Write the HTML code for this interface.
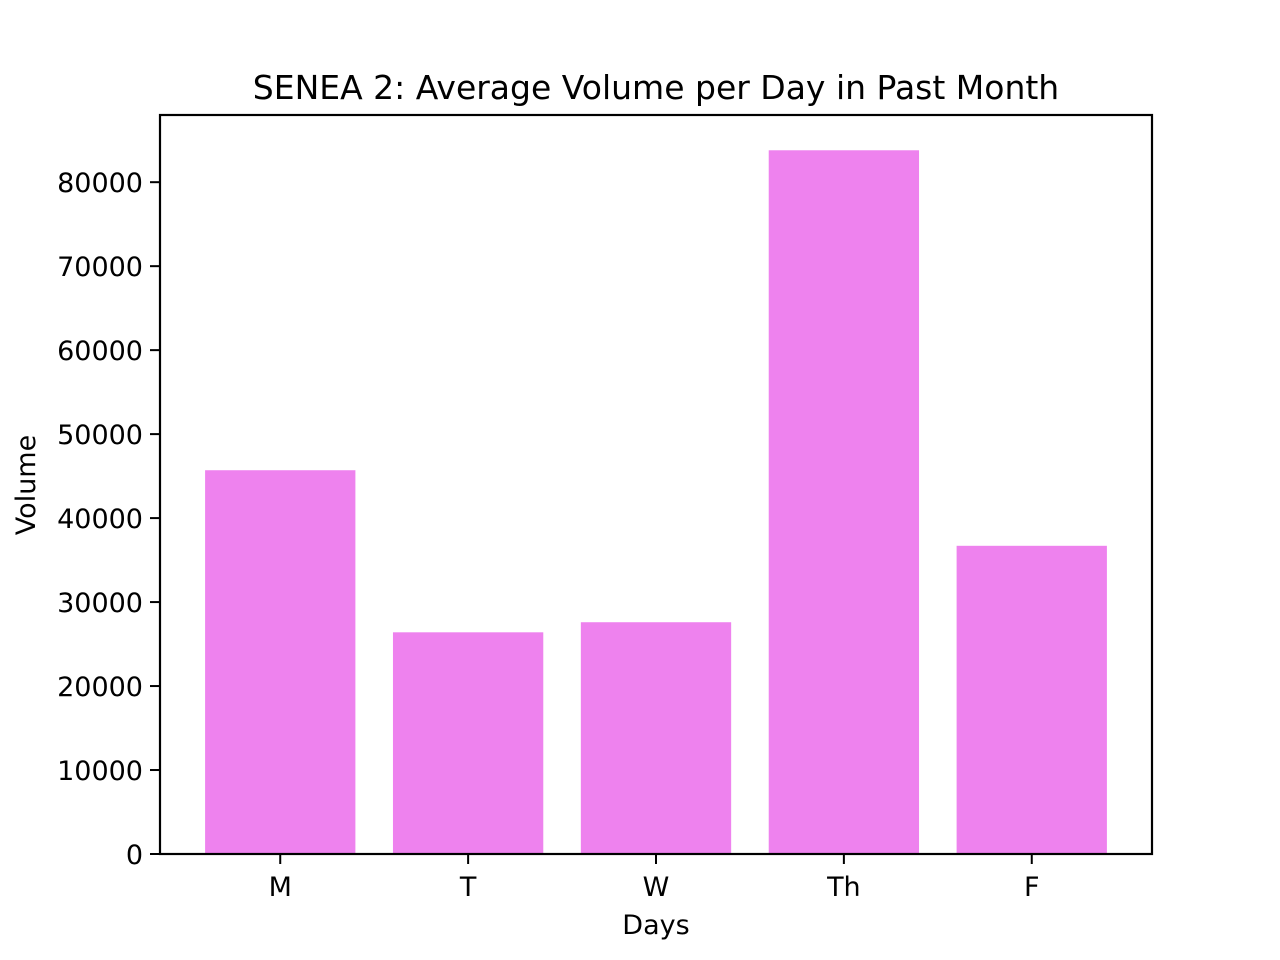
<!DOCTYPE html>
<html><head><meta charset="utf-8">
<style>
html,body{margin:0;padding:0;background:#fff;}
svg{display:block;font-family:"DejaVu Sans","Liberation Sans",sans-serif;}
</style></head>
<body>
<svg id="chart" width="1280" height="960" viewBox="0 0 1280 960">
<rect x="0" y="0" width="1280" height="960" fill="#fff"/>
<g id="bars"></g>
<g id="yticks"></g>
<g id="xticks"></g>
<rect x="160" y="115" width="992" height="739" fill="none" stroke="#000" stroke-width="2.2"/>
<text x="656" y="99" font-size="33" text-anchor="middle">SENEA 2: Average Volume per Day in Past Month</text>
<text x="656" y="934" font-size="27" text-anchor="middle">Days</text>
<text transform="translate(35,485) rotate(-90)" font-size="27" text-anchor="middle">Volume</text>
</svg>
<script>
const categories = ["M","T","W","Th","F"];
const values = [45700, 26400, 27600, 83800, 36700];
const yTicks = [0,10000,20000,30000,40000,50000,60000,70000,80000];

const NS = "http://www.w3.org/2000/svg";
const L=160,R=1152,T=115,B=854;
const xMin=-0.64,xMax=4.64,yMax=88000;
function xs(v){return L+(v-xMin)/(xMax-xMin)*(R-L);}
function ys(v){return B-v/yMax*(B-T);}
const bars=document.getElementById('bars');
const xt=document.getElementById('xticks');
const yt=document.getElementById('yticks');
function mk(tag,attrs){const e=document.createElementNS(NS,tag);for(const k in attrs)e.setAttribute(k,attrs[k]);return e;}
categories.forEach((c,i)=>{
  const x0=xs(i-0.4),x1=xs(i+0.4);
  const r=mk('rect',{x:x0,y:ys(values[i]),width:x1-x0,height:ys(0)-ys(values[i]),fill:'#ee82ee'});
  
  
  bars.appendChild(r);
  const tk=mk('line',{x1:xs(i),x2:xs(i),y1:B,y2:B+10,stroke:'#000','stroke-width':2});
  
  
  xt.appendChild(tk);
  const t=mk('text',{x:xs(i),y:B+42,'font-size':27,'text-anchor':'middle'});
  t.textContent=c;
  
  
  xt.appendChild(t);
});
yTicks.forEach(v=>{
  const tk=mk('line',{x1:L-10,x2:L,y1:ys(v),y2:ys(v),stroke:'#000','stroke-width':2});
  
  
  yt.appendChild(tk);
  const t=mk('text',{x:L-17,y:ys(v)+10,'font-size':27,'text-anchor':'end'});
  t.textContent=String(v);
  
  
  yt.appendChild(t);
});
</script>
</body></html>
